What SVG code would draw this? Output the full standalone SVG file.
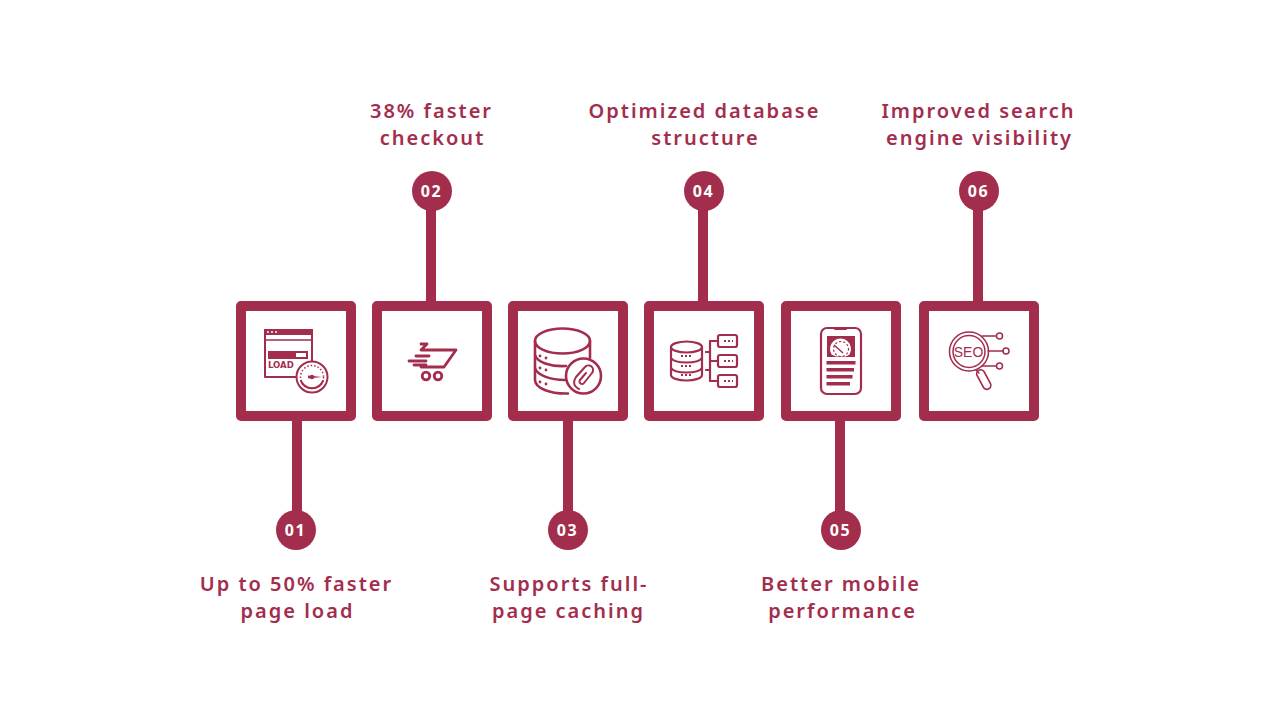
<svg xmlns="http://www.w3.org/2000/svg" width="1280" height="720" viewBox="0 0 1280 720">
<style>
.box{fill:#fff;stroke:#a32d4d;stroke-width:10;stroke-linejoin:round}
.stem{stroke:#a32d4d;stroke-width:10;fill:none}
.dot{fill:#a32d4d}
.num{font:700 16px "Noto Sans",sans-serif;fill:#fff;text-anchor:middle;letter-spacing:1.7px}
.lab{font:600 20px "Noto Sans",sans-serif;fill:#a32d4d;text-anchor:middle;letter-spacing:2px}
.ic{fill:none;stroke:#a32d4d;stroke-width:2;stroke-linecap:round;stroke-linejoin:round}
.fi{fill:#a32d4d;stroke:none}
.wh{fill:#fff}
</style>
<rect width="1280" height="720" fill="#fff"/>
<g id="connectors">
<path class="stem" d="M297 416V530"/>
<path class="stem" d="M431 306V191"/>
<path class="stem" d="M568 416V530"/>
<path class="stem" d="M703 306V191"/>
<path class="stem" d="M840 416V530"/>
<path class="stem" d="M978 306V191"/>
</g>
<g id="node-01">
<rect class="box" x="241" y="306" width="110" height="110"/>
<g class="ic">
<rect x="265" y="330" width="47" height="47"/>
<rect class="fi" x="264" y="329" width="49" height="6"/>
<path d="M265 340H312" stroke-width="1.600"/>
<rect class="fi" x="268" y="351" width="40" height="8"/>
<rect class="wh" x="296" y="353" width="10" height="4" stroke="none"/>
<circle class="wh" cx="312" cy="377" r="15.500" stroke-width="2"/>
<circle cx="312" cy="377" r="11.500" stroke-dasharray="1.500 2" stroke-width="1.500" stroke-linecap="butt"/>
<path d="M301 381A12 12 0 0 0 323 381" stroke-width="2"/>
<path class="fi" d="M308 375.500L322 377L308 378.500Z"/>
<circle class="fi" cx="312" cy="377" r="2.200"/>
</g>
<circle class="wh" cx="268" cy="332" r="1"/><circle class="wh" cx="272" cy="332" r="1"/><circle class="wh" cx="276" cy="332" r="1"/>
<text x="268" y="368" font-family="'DejaVu Sans',sans-serif" font-weight="700" font-size="8.500" fill="#a32d4d">LOAD</text>
</g>
<g id="node-02">
<rect class="box" x="377" y="306" width="110" height="110"/>
<g class="ic" style="stroke-width:2.800">
<path d="M421 344H427L421 350H456L444 367H421"/>
<path d="M416 356H429M409 361H426M414 365H426"/>
<circle cx="426" cy="376" r="3.800"/>
<circle cx="438" cy="376" r="3.800"/>
</g>
</g>
<g id="node-03">
<rect class="box" x="513" y="306" width="110" height="110"/>
<g class="ic" style="stroke-width:2.600">
<ellipse cx="562.500" cy="341" rx="27.500" ry="12.500"/>
<path d="M535 341V380C535 388 550 394 568 393.500M590 341V358"/>
<path d="M535 355C537 362 550 367 566 366M535 368C537 375 550 380 565 380"/>
<circle class="wh" cx="583.500" cy="376" r="17.500"/>
<path d="M579 389C573 386 573 381 576 377L585 367A4.500 4.500 0 0 1 592 373L584 383A2.500 2.500 0 0 1 580 380L586 373" style="stroke-width:2"/>
</g>
<circle class="dot" cx="540" cy="356" r="1.400"/><circle class="dot" cx="546" cy="358" r="1.400"/>
<circle class="dot" cx="540" cy="368" r="1.400"/><circle class="dot" cx="546" cy="370" r="1.400"/>
<circle class="dot" cx="540" cy="382" r="1.400"/><circle class="dot" cx="546" cy="384" r="1.400"/>
</g>
<g id="node-04">
<rect class="box" x="649" y="306" width="110" height="110"/>
<g class="ic" style="stroke-width:2.200">
<ellipse cx="686.500" cy="347" rx="15.500" ry="5.500"/>
<path d="M671 347V375C671 378 678 380.500 686.500 380.500S702 378 702 375V347"/>
<path d="M671 358C673 361 679 362.500 686.500 362.500S700 361 702 358M671 368C673 371 679 372.500 686.500 372.500S700 371 702 368"/>
<path d="M706 352H710M706 370H710M710 341V381M710 341H717M710 361H717M710 381H717"/>
<rect x="718" y="335" width="19" height="12" rx="2"/>
<rect x="718" y="355" width="19" height="12" rx="2"/>
<rect x="718" y="375" width="19" height="12" rx="2"/>
<path d="M724 341H733M724 361H733M724 381H733M681 356H692M681 366H692M681 375H692" stroke-dasharray="2 2" stroke-linecap="butt" style="stroke-width:2"/>
</g>
</g>
<g id="node-05">
<rect class="box" x="786" y="306" width="110" height="110"/>
<g class="ic">
<rect x="821" y="328" width="40" height="66" rx="6" style="stroke-width:2.200"/>
<path d="M835 329H846"/>
</g>
<rect class="fi" x="827" y="336" width="28" height="21"/>
<path class="wh" d="M831.500 354.500A10.500 10.500 0 1 1 849.500 354.500L846 356.500H836Z"/>
<path d="M834 345L843 353" stroke="#a32d4d" stroke-width="1.500"/>
<circle class="ic" cx="841" cy="349" r="7.500" stroke-dasharray="1.200 3" style="stroke-width:1.200"/>
<path class="fi" d="M826.500 361H855.500V364.500H826.500ZM826.500 368H854V371.500H826.500ZM826.500 375H852.500V378.500H826.500ZM826.500 382H850V385.500H826.500Z"/>
</g>
<g id="node-06">
<rect class="box" x="924" y="306" width="110" height="110"/>
<g class="ic" style="stroke-width:1.500">
<circle cx="969" cy="351.500" r="19.500"/>
<circle cx="969" cy="351.500" r="16"/>
<path d="M982 336H996M988 351H1003M982 366H996"/>
<circle cx="999.500" cy="336" r="3"/><circle cx="1006" cy="351" r="3"/><circle cx="999.500" cy="366" r="3"/>
<path d="M976 370L979 373"/>
<rect x="980" y="369" width="8" height="21" rx="4" transform="rotate(-28 984 380)" style="stroke-width:1.700"/>
</g>
<text x="968.500" y="356.500" text-anchor="middle" font-family="'Liberation Sans',sans-serif" font-size="14" fill="#a32d4d">SEO</text>
</g>
<g id="badge-01"><circle class="dot" cx="296" cy="530" r="20"/><text class="num" x="295.500" y="536">01</text></g>
<g id="badge-02"><circle class="dot" cx="432" cy="191" r="20"/><text class="num" x="431.500" y="197">02</text></g>
<g id="badge-03"><circle class="dot" cx="568" cy="530" r="20"/><text class="num" x="567.500" y="536">03</text></g>
<g id="badge-04"><circle class="dot" cx="704" cy="191" r="20"/><text class="num" x="703.500" y="197">04</text></g>
<g id="badge-05"><circle class="dot" cx="841" cy="530" r="20"/><text class="num" x="840.500" y="536">05</text></g>
<g id="badge-06"><circle class="dot" cx="979" cy="191" r="20"/><text class="num" x="978.500" y="197">06</text></g>
<g id="labels">
<text class="lab" x="296.500" y="591">Up to 50% faster</text><text class="lab" x="297.500" y="618">page load</text>
<text class="lab" x="431.500" y="118">38% faster</text><text class="lab" x="432.500" y="145">checkout</text>
<text class="lab" x="569" y="591">Supports full-</text><text class="lab" x="568.500" y="618">page caching</text>
<text class="lab" x="704.500" y="118">Optimized database</text><text class="lab" x="705.500" y="145">structure</text>
<text class="lab" x="841" y="591">Better mobile</text><text class="lab" x="842.500" y="618">performance</text>
<text class="lab" x="978.500" y="118">Improved search</text><text class="lab" x="979.500" y="145">engine visibility</text>
</g>
</svg>
